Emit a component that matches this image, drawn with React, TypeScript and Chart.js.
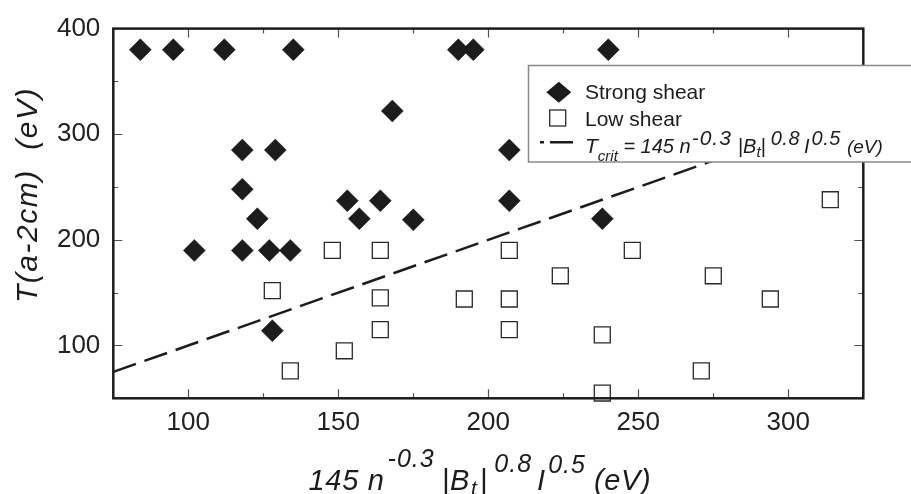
import React, { useEffect, useRef } from "react";
import { Chart, registerables } from "chart.js";

Chart.register(...registerables);

// ---- data ----
const STRONG_X = [84, 95, 112, 135, 190, 195, 240, 168, 118, 129, 207, 118, 153, 164, 207, 123, 157, 238, 175, 102, 118, 127, 134, 128];
const STRONG_Y = [380, 380, 380, 380, 380, 380, 380, 322, 285, 285, 285, 248, 237, 237, 237, 220, 220, 220, 219, 190, 190, 190, 190, 114];
const LOW_X = [148, 164, 207, 248, 128, 224, 275, 164, 192, 207, 294, 164, 207, 238, 152, 134, 271, 238, 314];
const LOW_Y = [190, 190, 190, 190, 152, 166, 166, 145, 144, 144, 144, 115, 115, 110, 95, 76, 76, 55, 238];
const TCRIT_X = [75, 325];
const TCRIT_Y = [75, 325];

const X_RANGE = [75, 325];
const Y_RANGE = [50, 400];
const X_MAJOR = [100, 150, 200, 250, 300];
const X_MINOR = [125, 175, 225, 275];
const Y_MAJOR = [100, 200, 300, 400];
const Y_MINOR = [150, 250, 350];

const SERIES_NAMES = ["Strong shear", "Low shear"];
const Y_TITLE = "T(a-2cm)  (eV)";

type Run = { t: string; size: number; dy?: number; gap?: number; ls?: number };

const X_TITLE: Run[] = [
  { t: "145 n", size: 29, ls: 0.7 },
  { t: "-0.3", size: 25, dy: -23, gap: 3, ls: 1 },
  { t: "|B", size: 29, gap: 7, ls: 0.7 },
  { t: "t", size: 21, dy: 5, gap: 1 },
  { t: "|", size: 29, gap: 3 },
  { t: "0.8", size: 25, dy: -18, gap: 7, ls: 1 },
  { t: "I", size: 29, gap: 5 },
  { t: "0.5", size: 25, dy: -17, gap: 3, ls: 1 },
  { t: "(eV)", size: 29, gap: 8, ls: 0.7 },
];

const LEGEND_FORMULA: Run[] = [
  { t: "T", size: 21 },
  { t: "crit", size: 15, dy: 8 },
  { t: " = 145 n", size: 20 },
  { t: "-0.3", size: 21, dy: -8, gap: 1, ls: 1 },
  { t: "|B", size: 20, gap: 6 },
  { t: "t", size: 15, dy: 4 },
  { t: "|", size: 20 },
  { t: "0.8", size: 20, dy: -8, gap: 5, ls: 0.5 },
  { t: "I", size: 20, gap: 4 },
  { t: "0.5", size: 20, dy: -8, gap: 2, ls: 0.5 },
  { t: "(eV)", size: 19, gap: 6 },
];

const FONT = "'Liberation Sans', Arial, Helvetica, sans-serif";
const INK = "#1c1c1c";

function setSpacing(ctx: any, s: number) {
  if ("letterSpacing" in ctx) ctx.letterSpacing = `${s}px`;
}

function runsWidth(ctx: CanvasRenderingContext2D, runs: Run[]) {
  let w = 0;
  for (const r of runs) {
    w += r.gap || 0;
    ctx.font = `italic ${r.size}px ${FONT}`;
    setSpacing(ctx, r.ls || 0);
    w += ctx.measureText(r.t).width;
  }
  setSpacing(ctx, 0);
  return w;
}

function drawRuns(ctx: CanvasRenderingContext2D, runs: Run[], x: number, y: number) {
  let cx = x;
  for (const r of runs) {
    cx += r.gap || 0;
    ctx.font = `italic ${r.size}px ${FONT}`;
    setSpacing(ctx, r.ls || 0);
    ctx.fillText(r.t, cx, y + (r.dy || 0));
    cx += ctx.measureText(r.t).width;
  }
  setSpacing(ctx, 0);
  return cx;
}

const decorPlugin = {
  id: "decor",
  afterDraw(chart: any) {
    const ctx: CanvasRenderingContext2D = chart.ctx;
    const { left, right, top, bottom } = chart.chartArea;
    const xs = chart.scales.x;
    const ys = chart.scales.y;

    ctx.save();
    // tick marks (inward, on all four sides)
    ctx.strokeStyle = "#555";
    ctx.lineWidth = 1.2;
    ctx.beginPath();
    const xt = (vals: number[], len: number) => {
      for (const v of vals) {
        const p = Math.round(xs.getPixelForValue(v)) + 0.5;
        ctx.moveTo(p, bottom);
        ctx.lineTo(p, bottom - len);
        ctx.moveTo(p, top);
        ctx.lineTo(p, top + len);
      }
    };
    const yt = (vals: number[], len: number) => {
      for (const v of vals) {
        const p = Math.round(ys.getPixelForValue(v)) + 0.5;
        ctx.moveTo(left, p);
        ctx.lineTo(left + len, p);
        ctx.moveTo(right, p);
        ctx.lineTo(right - len, p);
      }
    };
    xt(X_MAJOR, 9);
    xt(X_MINOR, 5);
    yt(Y_MAJOR.filter((v) => v < Y_RANGE[1]), 9);
    yt(Y_MINOR, 5);
    ctx.stroke();

    // frame
    ctx.strokeStyle = INK;
    ctx.lineWidth = 2.5;
    ctx.strokeRect(left, top, right - left, bottom - top);

    // legend box
    const lx = 528.5, ly = 65.5, lh = 96.5;
    ctx.fillStyle = "#fff";
    ctx.fillRect(lx, ly, 400, lh);
    ctx.strokeStyle = "#8a8a8a";
    ctx.lineWidth = 1.5;
    ctx.strokeRect(lx, ly, 400, lh);

    // diamond symbol
    ctx.fillStyle = INK;
    ctx.beginPath();
    ctx.moveTo(558.8 - 12.5, 92.3);
    ctx.lineTo(558.8, 92.3 - 10.5);
    ctx.lineTo(558.8 + 12.5, 92.3);
    ctx.lineTo(558.8, 92.3 + 10.5);
    ctx.closePath();
    ctx.fill();
    // square symbol
    ctx.strokeStyle = "#2a2a2a";
    ctx.lineWidth = 1.3;
    ctx.strokeRect(549.7, 110, 16, 16);
    // dash sample
    ctx.strokeStyle = INK;
    ctx.lineWidth = 2.5;
    ctx.beginPath();
    ctx.moveTo(540, 142.3);
    ctx.lineTo(544, 142.3);
    ctx.moveTo(550, 142.3);
    ctx.lineTo(573, 142.3);
    ctx.stroke();

    ctx.fillStyle = INK;
    ctx.textAlign = "left";
    ctx.textBaseline = "alphabetic";
    ctx.font = `21px ${FONT}`;
    ctx.fillText(SERIES_NAMES[0], 585, 98.5);
    ctx.fillText(SERIES_NAMES[1], 585, 125.5);
    drawRuns(ctx, LEGEND_FORMULA, 585, 152.5);

    // x title
    const w = runsWidth(ctx, X_TITLE);
    drawRuns(ctx, X_TITLE, 480 - w / 2, 490);

    // y title
    ctx.save();
    ctx.translate(36.7, 303);
    ctx.rotate(-Math.PI / 2);
    ctx.font = `italic 30px ${FONT}`;
    setSpacing(ctx, 1.5);
    ctx.fillText(Y_TITLE, 0, 0);
    setSpacing(ctx, 0);
    ctx.restore();
    ctx.restore();
  },
};

export default function App() {
  const ref = useRef<HTMLCanvasElement>(null);
  useEffect(() => {
    if (!ref.current) return;
    const chart = new Chart(ref.current, {
      type: "scatter",
      data: {
        datasets: [
          {
            label: SERIES_NAMES[0],
            data: STRONG_X.map((x, i) => ({ x, y: STRONG_Y[i] })),
            pointStyle: "rectRot",
            pointRadius: 11,
            pointHoverRadius: 11,
            backgroundColor: INK,
            borderColor: INK,
            borderWidth: 0.5,
            clip: false as any,
          },
          {
            label: SERIES_NAMES[1],
            data: LOW_X.map((x, i) => ({ x, y: LOW_Y[i] })),
            pointStyle: "rect",
            pointRadius: 11.3,
            pointHoverRadius: 11.3,
            backgroundColor: "rgba(255,255,255,0)",
            borderColor: "#2a2a2a",
            borderWidth: 1.3,
            clip: false as any,
          },
          {
            type: "line" as any,
            label: "Tcrit",
            data: TCRIT_X.map((x, i) => ({ x, y: TCRIT_Y[i] })),
            borderColor: INK,
            borderWidth: 2.5,
            borderDash: [24, 9],
            pointRadius: 0,
            showLine: true,
            fill: false,
          },
        ],
      },
      options: {
        animation: false,
        responsive: false,
        devicePixelRatio: 1,
        events: [],
        layout: { padding: { top: 22.7, right: 47.7, left: 0, bottom: 0 } },
        plugins: { legend: { display: false }, tooltip: { enabled: false } },
        scales: {
          x: {
            type: "linear",
            min: X_RANGE[0],
            max: X_RANGE[1],
            grid: { display: false, drawTicks: false },
            border: { display: false },
            afterBuildTicks: (s: any) => {
              s.ticks = X_MAJOR.map((v) => ({ value: v }));
            },
            afterFit: (s: any) => {
              s.height = 494 - 398.3;
            },
            ticks: {
              padding: 9,
              color: "#222",
              font: { family: FONT, size: 26 },
              maxRotation: 0,
              autoSkip: false,
            },
          },
          y: {
            type: "linear",
            min: Y_RANGE[0],
            max: Y_RANGE[1],
            grid: { display: false, drawTicks: false },
            border: { display: false },
            afterBuildTicks: (s: any) => {
              s.ticks = Y_MAJOR.map((v) => ({ value: v }));
            },
            afterFit: (s: any) => {
              s.width = 113.3;
            },
            ticks: {
              padding: 13,
              color: "#222",
              font: { family: FONT, size: 26 },
              autoSkip: false,
            },
          },
        },
      },
      plugins: [decorPlugin],
    });
    return () => chart.destroy();
  }, []);
  return (
    <div style={{ position: "absolute", left: 0, top: 0, width: 911, height: 494, background: "#fff" }}>
      <canvas ref={ref} width={911} height={494} style={{ width: 911, height: 494, display: "block" }} />
    </div>
  );
}
